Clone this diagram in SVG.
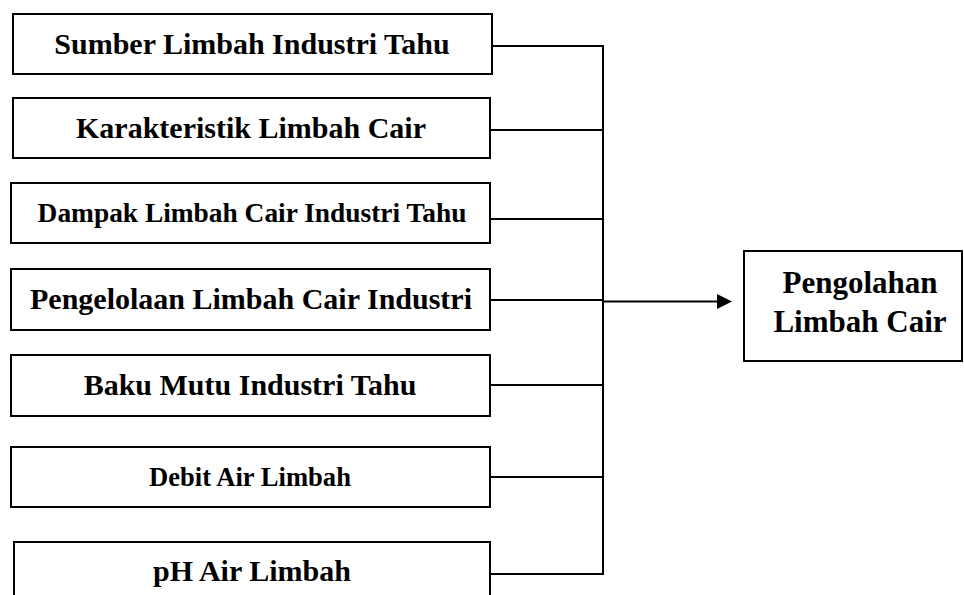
<svg xmlns="http://www.w3.org/2000/svg" width="964" height="595" viewBox="0 0 964 595">
<style>
.box{fill:#fff;stroke:#000;stroke-width:2}
.t{font-family:"Liberation Serif","Times New Roman",serif;font-weight:bold;fill:#000;text-anchor:middle}
.c{stroke:#000;stroke-width:2;fill:none}
</style>
<rect width="964" height="595" fill="#fff"/>
<g id="n1"><rect class="box" x="13" y="14" width="479" height="60"/><text class="t" x="252" y="54" font-size="30">Sumber Limbah Industri Tahu</text></g>
<g id="n2"><rect class="box" x="13" y="98" width="477" height="60"/><text class="t" x="251" y="138" font-size="30">Karakteristik Limbah Cair</text></g>
<g id="n3"><rect class="box" x="11" y="183" width="479" height="60"/><text class="t" x="252" y="222" font-size="27.4">Dampak Limbah Cair Industri Tahu</text></g>
<g id="n4"><rect class="box" x="11" y="269" width="479" height="61"/><text class="t" x="251" y="309" font-size="30">Pengelolaan Limbah Cair Industri</text></g>
<g id="n5"><rect class="box" x="11" y="355" width="479" height="61"/><text class="t" x="250" y="395" font-size="30">Baku Mutu Industri Tahu</text></g>
<g id="n6"><rect class="box" x="11" y="447" width="479" height="60"/><text class="t" x="250" y="486" font-size="26.6">Debit Air Limbah</text></g>
<g id="n7"><rect class="box" x="14" y="542" width="476" height="62"/><text class="t" x="252" y="581" font-size="30">pH Air Limbah</text></g>
<g id="n8"><rect class="box" x="744" y="251" width="218" height="110"/><text class="t" x="860" y="293" font-size="31">Pengolahan</text><text class="t" x="860" y="332" font-size="31">Limbah Cair</text></g>
<g id="connectors">
<path class="c" d="M492 46H603M490 130H603M490 219H603M490 300H603M490 385H603M490 477H603M490 574H603M603 45V575"/>
<path class="c" d="M603 301.5H720"/>
<polygon points="717,294 732,301.5 717,309" fill="#000"/>
</g>
</svg>
